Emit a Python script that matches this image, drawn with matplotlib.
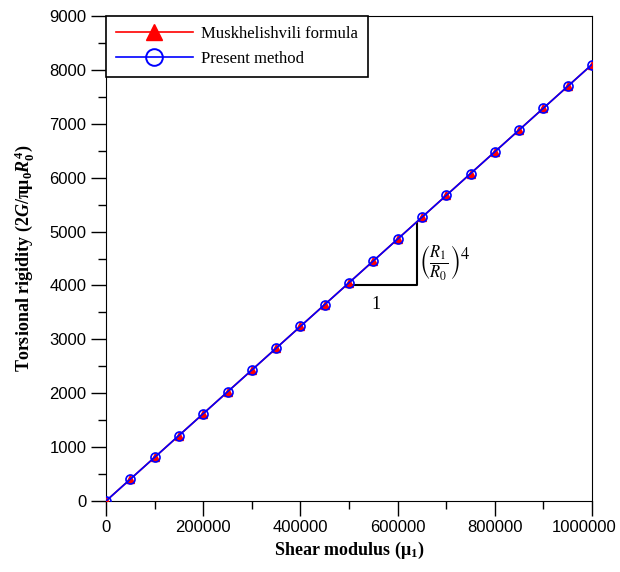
import numpy as np
import matplotlib as mpl
mpl.use('Agg')
import matplotlib.pyplot as plt
import matplotlib.transforms as mtransforms
from matplotlib.lines import Line2D
from matplotlib.ticker import MultipleLocator, FormatStrFormatter

mpl.rcParams.update({
    'mathtext.fontset': 'custom',
    'mathtext.rm': 'Liberation Serif:bold',
    'mathtext.it': 'Liberation Serif:italic:bold',
    'mathtext.bf': 'Liberation Serif:bold',
})

# shear modulus mu_1
shear_modulus = [0, 50000, 100000, 150000, 200000, 250000, 300000, 350000, 400000,
                 450000, 500000, 550000, 600000, 650000, 700000, 750000, 800000,
                 850000, 900000, 950000, 1000000]
# torsional rigidity, Muskhelishvili formula
rigidity_musk = [0, 405, 810, 1215, 1620, 2025, 2430, 2835, 3240, 3645, 4050,
                 4455, 4860, 5265, 5670, 6075, 6480, 6885, 7290, 7695, 8100]
# torsional rigidity, present method
rigidity_present = [0, 405, 810, 1215, 1620, 2025, 2430, 2835, 3240, 3645, 4050,
                    4455, 4860, 5265, 5670, 6075, 6480, 6885, 7290, 7695, 8100]

# slope triangle
tri_x = [494000, 640000, 640000]
tri_y = [4000, 4000, 5150]

fig = plt.figure(figsize=(6.2, 5.72), dpi=100)
ax = fig.add_axes([106 / 620, 71 / 572, 486 / 620, 485 / 572])

ax.plot(shear_modulus, rigidity_musk, color='red', lw=1.2, marker='^',
        markersize=6, markerfacecolor='red', markeredgecolor='red', zorder=3)
ax.plot(shear_modulus, rigidity_present, color='blue', lw=1.2, marker='o',
        markersize=6.5, markerfacecolor='none', markeredgecolor='blue',
        markeredgewidth=1.2, zorder=4)

ax.plot(tri_x, tri_y, color='black', lw=1.5, zorder=2)
ax.text(555000, 3640, '1', fontsize=13, family='Liberation Serif',
        ha='center', va='center')
ax.text(645000, 4420, r'$\left(\frac{R_1}{R_0}\right)^4$', fontsize=17,
        math_fontfamily='stix', ha='left', va='center')

ax.set_xlim(0, 1000000)
ax.set_ylim(0, 9000)
ax.xaxis.set_major_locator(MultipleLocator(200000))
ax.xaxis.set_minor_locator(MultipleLocator(100000))
ax.xaxis.set_major_formatter(FormatStrFormatter('%d'))
ax.yaxis.set_major_locator(MultipleLocator(1000))
ax.yaxis.set_minor_locator(MultipleLocator(500))
ax.tick_params(which='major', direction='out', length=11, width=1,
               labelsize=12, top=False, right=False, pad=3)
ax.tick_params(which='minor', direction='out', length=6, width=1,
               top=False, right=False)

ax.set_xlabel(r'Shear modulus (μ$_1$)', fontsize=13, family='Liberation Serif',
              fontweight='bold', labelpad=3)
ax.set_ylabel(r'Torsional rigidity (2$G$/πμ$_0$$R_0^4$)', fontsize=13,
              family='Liberation Serif', fontweight='bold', labelpad=10)

handles = [
    Line2D([], [], color='red', lw=1.2, marker='^', markersize=12,
           markerfacecolor='red', markeredgecolor='red'),
    Line2D([], [], color='blue', lw=1.2, marker='o', markersize=12,
           markerfacecolor='none', markeredgecolor='blue', markeredgewidth=1.4),
]
leg = ax.legend(handles, ['Muskhelishvili formula', 'Present method'],
                loc='upper left', bbox_to_anchor=(0, 1), borderaxespad=0,
                prop={'family': 'Liberation Serif', 'size': 12},
                fancybox=False, framealpha=1, edgecolor='black',
                handlelength=4.6, handletextpad=0.5, borderpad=0.6,
                labelspacing=0.55)
leg.get_frame().set_linewidth(1.2)

fig.canvas.draw()
for lab in ax.get_xticklabels() + ax.get_yticklabels():
    lab.set_family('Liberation Sans')
for tick in ax.xaxis.get_major_ticks():
    if tick.label1.get_text() == '1000000':
        tick.label1.set_transform(tick.label1.get_transform() +
                                  mtransforms.ScaledTranslation(-8 / 100, 0, fig.dpi_scale_trans))

plt.savefig('out.png', dpi=100)
